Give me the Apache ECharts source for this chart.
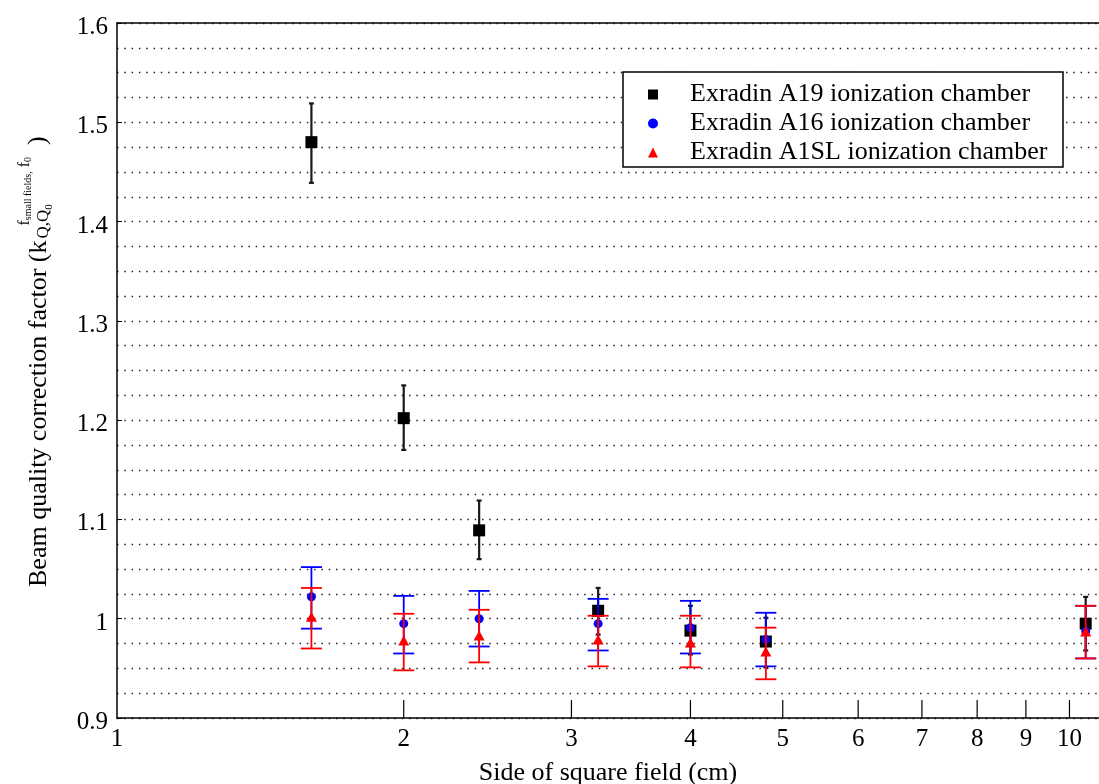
<!DOCTYPE html>
<html><head><meta charset="utf-8">
<script src="https://cdn.jsdelivr.net/npm/echarts@6/dist/echarts.min.js"></script>
<style>html,body{margin:0;padding:0;background:#fff}#c{width:1099px;height:784px}</style>
</head><body><div id="c"></div>
<script>
// ---- data ----
const fieldSizes = [1.6, 2.0, 2.4, 3.2, 4.0, 4.8, 10.4];
const a19Val  = [1.480, 1.202, 1.089, 1.008, 0.988, 0.977, 0.995];
const a19Low  = [1.439, 1.170, 1.060, 0.984, 0.964, 0.951, 0.968];
const a19High = [1.519, 1.235, 1.119, 1.031, 1.013, 1.001, 1.022];
const a16Val  = [1.022, 0.995, 1.000, 0.995, 0.991, 0.979, 0.987];
const a16Low  = [0.990, 0.965, 0.972, 0.968, 0.965, 0.952, 0.960];
const a16High = [1.052, 1.023, 1.028, 1.020, 1.018, 1.006, 1.013];
const a1slVal  = [1.002, 0.978, 0.983, 0.979, 0.976, 0.967, 0.987];
const a1slLow  = [0.970, 0.948, 0.956, 0.952, 0.951, 0.939, 0.960];
const a1slHigh = [1.031, 1.005, 1.009, 1.003, 1.003, 0.991, 1.013];
const xTickValues = [1, 2, 3, 4, 5, 6, 7, 8, 9, 10];
const xTickLabels = ['1', '2', '3', '4', '5', '6', '7', '8', '9', '10'];
const seriesNames = ['Exradin A19 ionization chamber', 'Exradin A16 ionization chamber', 'Exradin A1SL ionization chamber'];
const xTitle = 'Side of square field (cm)';
const yTitleMain = 'Beam quality correction factor (k';

// ---- helpers ----
const FF = '"Liberation Serif", "Times New Roman", serif';
const Y_MIN = 0.9, Y_MAX = 1.6;
const X_MIN = 1, X_MAX = 10.74;
const dotted = { type: [1.5, 5.8], color: '#222', width: 1.4 };

const mctx = document.createElement('canvas').getContext('2d');
function tw(text, size) { mctx.font = size + 'px ' + FF; return mctx.measureText(text).width; }

function errSeries(name, lows, highs, color, width, capW, z) {
  return {
    type: 'custom', name: name, z: z, silent: true, clip: false,
    data: fieldSizes.map((x, i) => [x, lows[i], highs[i]]),
    encode: { x: 0, y: [1, 2] },
    renderItem: function (params, api) {
      const lo = api.coord([api.value(0), api.value(1)]);
      const hi = api.coord([api.value(0), api.value(2)]);
      const x = lo[0], h = capW / 2;
      const st = { stroke: color, lineWidth: width };
      return { type: 'group', children: [
        { type: 'line', shape: { x1: x, y1: lo[1], x2: x, y2: hi[1] }, style: st },
        { type: 'line', shape: { x1: x - h, y1: lo[1], x2: x + h, y2: lo[1] }, style: st },
        { type: 'line', shape: { x1: x - h, y1: hi[1], x2: x + h, y2: hi[1] }, style: st }
      ]};
    }
  };
}
function scatter(name, vals, symbol, size, color, z) {
  return { type: 'scatter', name: name, z: z, symbol: symbol, symbolSize: size,
    itemStyle: { color: color, opacity: 1 }, silent: true,
    data: fieldSizes.map((x, i) => [x, vals[i]]) };
}

// y-axis title pieces (rotated group)
const mainW = tw(yTitleMain, 26);
const subX = mainW + 2;
const subW = tw('Q,Q', 17);
const supX = mainW + 15;
const supF1 = tw('f', 16), supSF = tw('small fields,', 10), supF2 = tw(' f', 16), sup0 = tw('0', 10);
const supEnd = supX + supF1 + supSF + supF2 + sup0;
const closeX = Math.max(subX + subW + tw('0', 11), supEnd) + 12;
function t(text, x, y, size) {
  return { type: 'text', x: x, y: y, style: { text: text, font: size + 'px ' + FF, fill: '#000', align: 'left', verticalAlign: 'middle' } };
}
const yTitleGroup = {
  type: 'group', x: 39, y: 587, rotation: Math.PI / 2, z: 10,
  children: [
    t(yTitleMain, 0, 0, 26),
    t('Q,Q', subX, 5, 17),
    t('0', subX + subW, 10, 11),
    t('f', supX, -14.5, 16),
    t('small fields,', supX + supF1, -10.5, 10),
    t(' f', supX + supF1 + supSF, -14.5, 16),
    t('0', supX + supF1 + supSF + supF2, -10.5, 10),
    t(')', closeX, -1, 26)
  ]
};

const chart = echarts.init(document.getElementById('c'), null, { renderer: 'canvas' });
chart.setOption({
  animation: false,
  backgroundColor: '#fff',
  grid: { left: 117, right: 0, top: 23, bottom: 66, containLabel: false, outerBoundsMode: 'none' },
  xAxis: [
    { type: 'log', logBase: 10, min: X_MIN, max: X_MAX, position: 'bottom',
      axisLine: { show: true, lineStyle: { color: '#000', width: 1.5 } },
      axisTick: { show: false }, axisLabel: { show: false }, splitLine: { show: false },
      minorTick: { show: false }, minorSplitLine: { show: false },
      name: xTitle, nameLocation: 'middle', nameGap: 42,
      nameTextStyle: { fontFamily: FF, fontSize: 26, color: '#000' } },
    { type: 'log', logBase: 10, min: X_MIN, max: X_MAX, position: 'top',
      axisLine: { show: true, onZero: false, lineStyle: { color: '#000', width: 1.5 } },
      axisTick: { show: false }, axisLabel: { show: false }, splitLine: { show: false } }
  ],
  yAxis: {
    type: 'value', min: Y_MIN, max: Y_MAX, interval: 0.1,
    axisLine: { show: true, lineStyle: { color: '#000', width: 1.5 } },
    axisTick: { show: true, inside: true, length: 5, lineStyle: { color: '#000', width: 1 } },
    axisLabel: { fontFamily: FF, fontSize: 25, color: '#000', margin: 9,
      formatter: v => '{v|' + String(Math.round(v * 10) / 10) + '}',
      rich: { v: { fontFamily: FF, fontSize: 25, color: '#000', padding: [9, 0, 0, 0] } } },
    splitLine: { show: true, lineStyle: dotted },
    minorTick: { show: false, splitNumber: 4 },
    minorSplitLine: { show: true, lineStyle: dotted }
  },
  legend: {
    show: true, orient: 'vertical', left: 648, top: 80, padding: 0, itemGap: 0,
    itemWidth: 10, itemHeight: 10, selectedMode: false, z: 6,
    textStyle: { fontFamily: FF, fontSize: 26, color: '#000', lineHeight: 29, padding: [0, 0, 0, 27] },
    data: [
      { name: seriesNames[0], icon: 'rect' },
      { name: seriesNames[1], icon: 'circle' },
      { name: seriesNames[2], icon: 'triangle' }
    ]
  },
  graphic: [
    { type: 'rect', z: 5, shape: { x: 623, y: 72, width: 440, height: 95 },
      style: { fill: '#fff', stroke: '#000', lineWidth: 1.5 } },
    yTitleGroup
  ],
  series: [
    { type: 'custom', name: 'xTicks', silent: true, clip: false, z: 8,
      data: xTickValues.map((v, i) => [v, i]),
      encode: { x: 0 },
      renderItem: function (params, api) {
        const v = api.value(0);
        const p = api.coord([v, Y_MIN]);
        const children = [
          { type: 'text', x: p[0], y: p[1] + 9,
            style: { text: xTickLabels[api.value(1)], font: '25px ' + FF, fill: '#000', align: 'center', verticalAlign: 'top' } }
        ];
        if (v !== X_MIN) {
          children.push({ type: 'line', shape: { x1: p[0], y1: p[1], x2: p[0], y2: p[1] - 18 },
            style: { stroke: '#000', lineWidth: 1.2 } });
        }
        return { type: 'group', children: children };
      }
    },
    errSeries('A19 error', a19Low, a19High, '#1a1a1a', 2.2, 5, 2),
    scatter(seriesNames[0], a19Val, 'rect', 12, '#000', 3),
    errSeries('A16 error', a16Low, a16High, '#0000ff', 1.8, 21, 4),
    scatter(seriesNames[1], a16Val, 'circle', 9, '#0000ff', 5),
    errSeries('A1SL error', a1slLow, a1slHigh, '#ff0000', 1.8, 21, 6),
    scatter(seriesNames[2], a1slVal, 'triangle', [11, 10], '#ff0000', 7)
  ]
});
</script>
</body></html>
